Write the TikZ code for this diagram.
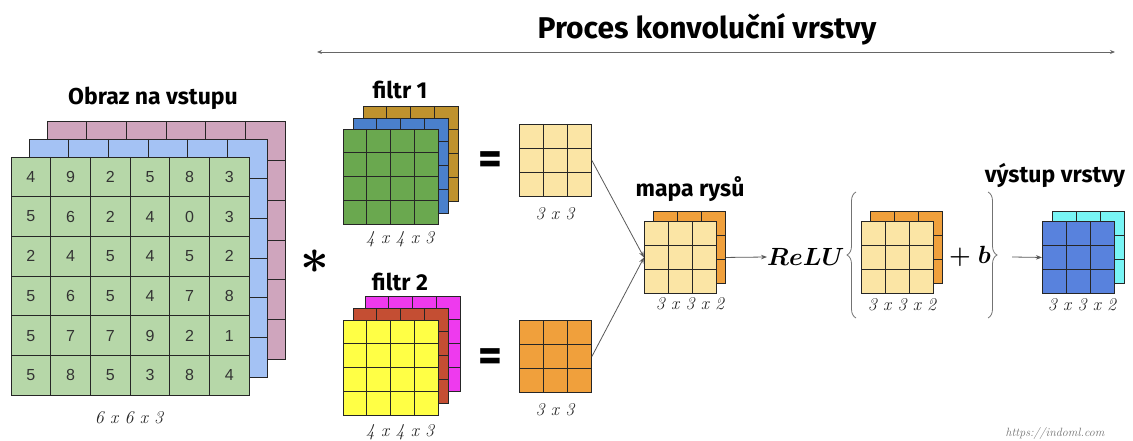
\documentclass[tikz,border=0pt]{standalone}
\usepackage{amsmath,amssymb}
\usepackage{bm}
\usepackage{fontspec}
\newfontfamily\headfont{Fira Sans}
\newfontfamily\cellfont{Liberation Sans}
\usetikzlibrary{arrows.meta,decorations.pathreplacing}

\definecolor{inGreenC}{HTML}{B6D7A8}
\definecolor{inBlueC}{HTML}{A4C2F4}
\definecolor{inPinkC}{HTML}{CFA5BD}
\definecolor{fGreenC}{HTML}{6AA84F}
\definecolor{fBlueC}{HTML}{4A80CC}
\definecolor{fGoldC}{HTML}{BF922E}
\definecolor{fYellowC}{HTML}{FFFF45}
\definecolor{fRedC}{HTML}{C44E33}
\definecolor{fMagC}{HTML}{EE3AEE}
\definecolor{lightC}{HTML}{FBE5A5}
\definecolor{orangeC}{HTML}{F0A03C}
\definecolor{outBlueC}{HTML}{5882DD}
\definecolor{outCyanC}{HTML}{78F5F5}

% #1 name, #2 left, #3 top, #4 cells, #5 cell size, #6 fill
\newcommand{\sheet}[6]{%
  \node[sheet,fill=#6,minimum width=#4*#5pt,minimum height=#4*#5pt] (#1) at (#2,#3) {};
  \pgfmathtruncatemacro{\lastk}{#4-1}
  \foreach \k in {1,...,\lastk} {
    \draw[gridline] (#2+\k*#5,#3) -- (#2+\k*#5,#3+#4*#5);
    \draw[gridline] (#2,#3+\k*#5) -- (#2+#4*#5,#3+\k*#5);
  }
}

\begin{document}
\begin{tikzpicture}[x=1pt,y=-1pt,
  sheet/.style={draw=black!85,line width=0.9pt,inner sep=0pt,outer sep=0pt,anchor=north west},
  gridline/.style={black!85,line width=0.8pt},
  digit/.style={font=\cellfont\fontsize{16}{18}\selectfont,text=black!80},
  head/.style={font=\headfont\bfseries\fontsize{23}{27}\selectfont},
  dims/.style={font=\itshape\fontsize{18}{21}\selectfont,text=black!85},
  link/.style={draw=black!65,line width=0.8pt,-{Stealth[length=6pt,width=4.5pt]}},
  curly/.style={draw=black!55,line width=0.8pt,decorate,decoration={brace,amplitude=9pt}}]
 \useasboundingbox (0,0) rectangle (1133,441);

 \node[font=\headfont\bfseries\fontsize{30}{36}\selectfont] (title) at (707,29) {Proces konvoluční vrstvy};
 \coordinate (spanL) at (317,52);
 \coordinate (spanR) at (1115,52);
 \draw[draw=black!60,line width=0.9pt,{Stealth[length=5pt,width=4pt]}-{Stealth[length=5pt,width=4pt]}] (spanL) -- (spanR);

 \sheet{inPink}{47}{121}{6}{39.7}{inPinkC}
 \sheet{inBlue}{29}{139}{6}{39.7}{inBlueC}
 \sheet{inGreen}{11}{157}{6}{39.7}{inGreenC}
 \foreach \row [count=\r] in {{4,9,2,5,8,3},{5,6,2,4,0,3},{2,4,5,4,5,2},{5,6,5,4,7,8},{5,7,7,9,2,1},{5,8,5,3,8,4}}
  \foreach \v [count=\c] in \row
   \node[digit] (d\r\c) at (11+\c*39.7-19.85,157+\r*39.7-19.85) {\v};
 \node[head] (lblIn) at (153,98) {Obraz na vstupu};
 \node[dims] (dimIn) at (129,418) {6 x 6 x 3};

 \node (conv) at (315,262) {\scalebox{5}{$\bm{\ast}$}};

 \sheet{fAGold}{363}{106}{4}{23.75}{fGoldC}
 \sheet{fABlue}{353}{118}{4}{23.75}{fBlueC}
 \sheet{fAGreen}{343}{129}{4}{23.75}{fGreenC}
 \node[head] (lblFA) at (400,90) {filtr 1};
 \node[dims] (dimFA) at (400,239) {4 x 4 x 3};

 \sheet{fBMag}{365}{296}{4}{23.75}{fMagC}
 \sheet{fBRed}{353}{308}{4}{23.75}{fRedC}
 \sheet{fBYellow}{343}{320}{4}{23.75}{fYellowC}
 \node[head] (lblFB) at (400,282) {filtr 2};
 \node[dims] (dimFB) at (400,432) {4 x 4 x 3};

 \node[font=\headfont\bfseries\fontsize{46}{46}\selectfont] (eqA) at (490,163) {=};
 \node[font=\headfont\bfseries\fontsize{46}{46}\selectfont] (eqB) at (490,360) {=};

 \sheet{mapA}{519}{124}{3}{24.3}{lightC}
 \node[dims] (dimMA) at (555,214) {3 x 3};
 \sheet{mapB}{519}{320}{3}{24.3}{orangeC}
 \node[dims] (dimMB) at (555,410) {3 x 3};

 \sheet{fmapBack}{653}{211}{3}{24.3}{orangeC}
 \sheet{fmap}{644}{221}{3}{24.3}{lightC}
 \node[head] (lblMap) at (690,189) {mapa rysů};
 \node[dims] (dimMap) at (690,304) {3 x 3 x 2};
 \draw[link] (mapA.east) -- (fmap.west);
 \draw[link] (mapB.east) -- (fmap.west);

 \node[font=\fontsize{24.88}{28}\selectfont,anchor=west,inner sep=0pt] (relu) at (767,257) {$\bm{ReLU}$};
 \draw[link] (fmapBack.east |- fmap.east) -- (relu.west);

 \coordinate (braceLlow) at (856,318);
 \coordinate (braceLtop) at (856,192);
 \draw[curly] (braceLlow) -- (braceLtop);
 \sheet{actBack}{870}{211}{3}{24.3}{orangeC}
 \sheet{act}{861}{221}{3}{24.3}{lightC}
 \node[dims] (dimAct) at (902,305) {3 x 3 x 2};
 \node[font=\fontsize{24.88}{28}\selectfont] (bias) at (970,256) {$\bm{+}\;\bm{b}$};
 \coordinate (braceRtop) at (988,192);
 \coordinate (braceRlow) at (988,318);
 \draw[curly] (braceRtop) -- (braceRlow);

 \sheet{outBack}{1052}{211}{3}{24.3}{outCyanC}
 \sheet{out}{1042}{221}{3}{24.3}{outBlueC}
 \coordinate (afterBrace) at (1012,257);
 \draw[link] (afterBrace) -- (out.west);
 \node[head] (lblOut) at (1055,175) {výstup vrstvy};
 \node[dims] (dimOut) at (1082,305) {3 x 3 x 2};

 \node[font=\itshape\fontsize{12}{14}\selectfont,text=black!55] (credit) at (1055,433) {https://indoml.com};
\end{tikzpicture}
\end{document}
